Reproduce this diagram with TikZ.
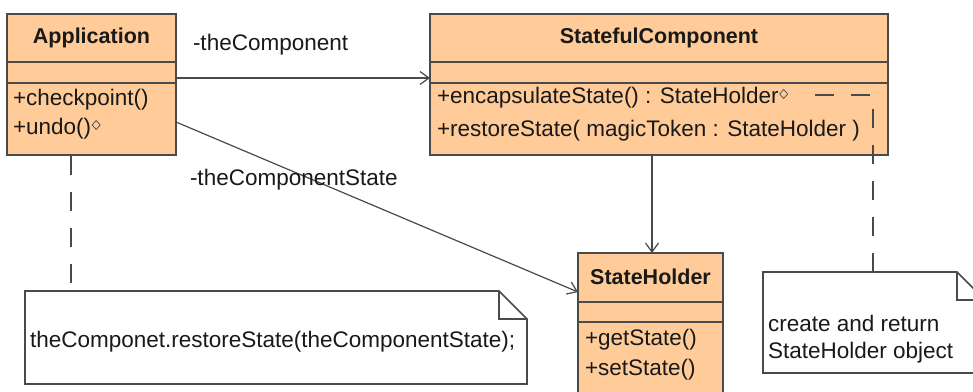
\documentclass[tikz,border=0pt]{standalone}
\usepackage{fontspec}
\setmainfont{Liberation Sans}
\usetikzlibrary{arrows.meta,shapes.geometric}
\definecolor{classfill}{HTML}{FFCC99}
\definecolor{edgegray}{HTML}{4A4A4A}
\begin{document}
\begin{tikzpicture}[x=1pt,y=-1pt,
  every node/.style={inner sep=0pt, outer sep=0pt, font=\fontsize{22.5}{26}\selectfont, text=black!90},
  classbox/.style={draw=edgegray, line width=1.6pt, fill=classfill, rectangle},
  titletext/.style={font=\fontsize{21.5}{25}\selectfont\bfseries},
  member/.style={anchor=west},
  sepline/.style={draw=edgegray, line width=1.4pt},
  assoc/.style={draw=edgegray, line width=1.2pt, -{Straight Barb[length=9pt,width=13pt,line width=1.2pt]}},
  notelink/.style={draw=edgegray, line width=1.2pt, dash pattern=on 19pt off 17pt},
  noteshape/.style={draw=edgegray, line width=1.6pt, fill=white},
  smalldia/.style={diamond, draw=edgegray, line width=0.7pt, minimum width=8pt, minimum height=9pt, inner sep=0pt}
]
\clip (0,0) rectangle (973,391);
\fill[white] (0,0) rectangle (973,391);

% Application
\node[classbox, minimum width=169pt, minimum height=141pt] (app) at (91.5,84.5) {};
\draw[sepline] (7,62) -- (176,62);
\draw[sepline] (7,83) -- (176,83);
\node[titletext] (apptitle) at (91.5,38) {Application};
\node[member] (appm1) at (13,100) {+checkpoint()};
\node[member] (appm2) at (13,129) {+undo()};
\node[smalldia, xshift=5pt, yshift=4pt] (appdia) at (appm2.east) {};

% StatefulComponent
\node[classbox, minimum width=458pt, minimum height=141pt] (sc) at (659,84.5) {};
\draw[sepline] (430,62) -- (888,62);
\draw[sepline] (430,83) -- (888,83);
\node[titletext] (sctitle) at (659,38) {StatefulComponent};
\node[member] (scm1) at (437,98) {+encapsulateState() : StateHolder};
\node[member] (scm2) at (437,131) {+restoreState( magicToken : StateHolder )};
\node[smalldia, xshift=5pt, yshift=4pt] (scdia) at (scm1.east) {};

% StateHolder
\node[classbox, minimum width=145pt, minimum height=167pt] (sh) at (650.5,336.5) {};
\draw[sepline] (578,302) -- (723,302);
\draw[sepline] (578,322) -- (723,322);
\node[titletext] (shtitle) at (650.5,277) {StateHolder};
\node[member] (shm1) at (585,340) {+getState()};
\node[member] (shm2) at (585,370) {+setState()};

% Note 1
\draw[noteshape] (25,291) -- (499,291) -- (527,319) -- (527,384) -- (25,384) -- cycle;
\draw[noteshape, fill=none] (499,291) -- (499,319) -- (527,319);
\node[anchor=west] (note1) at (30,342) {theComponet.restoreState(theComponentState);};

% Note 2
\draw[noteshape] (763,272) -- (957,272) -- (985,300) -- (985,373) -- (763,373) -- cycle;
\draw[noteshape, fill=none] (957,272) -- (957,300) -- (985,300);
\node[anchor=west] (note2a) at (768,323) {create and return};
\node[anchor=west] (note2b) at (768,353) {StateHolder object};

% connectors
\coordinate (a1) at (176,78);
\coordinate (s1) at (430,78);
\draw[assoc] (a1) -- (s1);
\node[anchor=west] (lbl1) at (193,45) {-theComponent};

\coordinate (a2) at (176,122);
\coordinate (h1) at (578,292);
\draw[assoc] (a2) -- (h1);
\node[anchor=west] (lbl2) at (190,180) {-theComponentState};

\coordinate (s2) at (652,156);
\coordinate (h2) at (652,253);
\draw[assoc] (s2) -- (h2);

\coordinate (appb) at (71,156);
\coordinate (n1t) at (71,291);
\draw[notelink] (appb) -- (n1t);

\coordinate (d2s) at (798,95);
\coordinate (d2c) at (873,95);
\coordinate (n2t) at (873,272);
\draw[notelink, dash phase=19pt] (d2s) -- (d2c) -- (n2t);
\end{tikzpicture}
\end{document}
